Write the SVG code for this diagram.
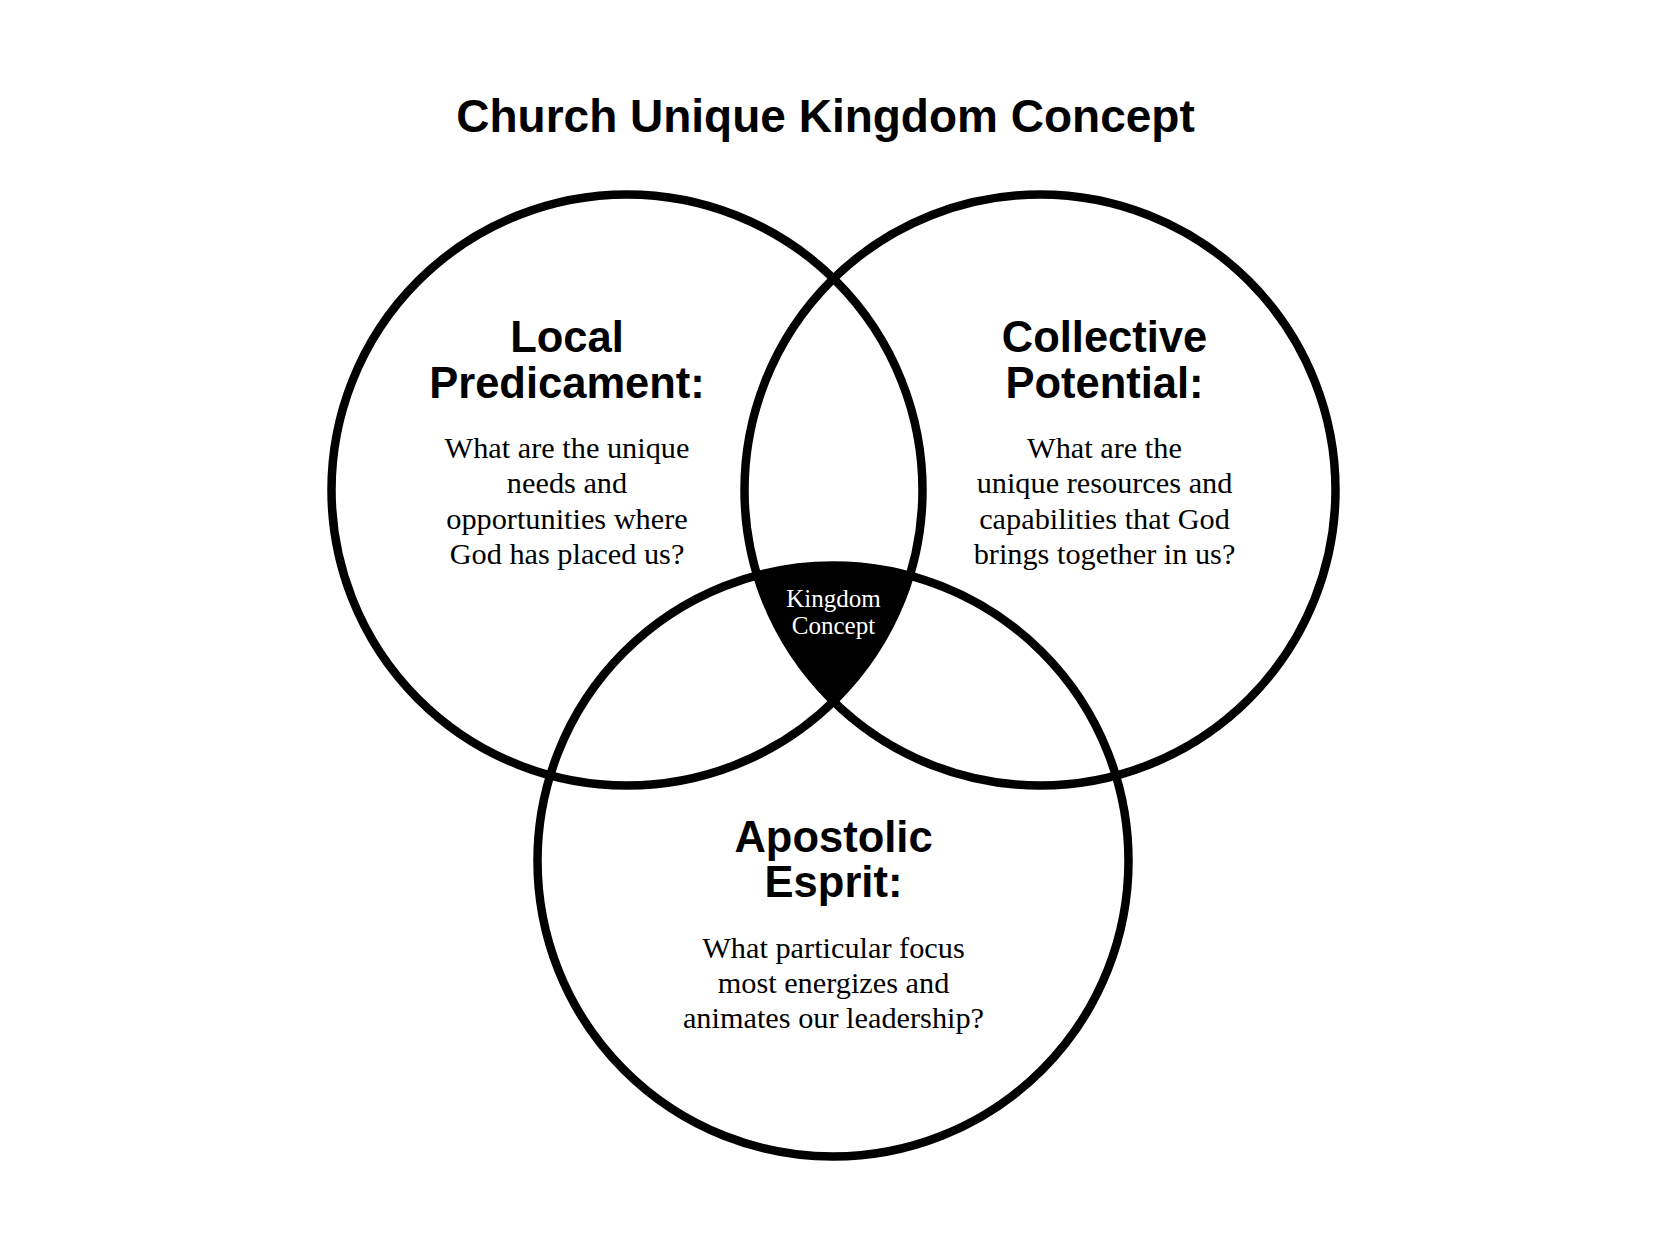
<svg xmlns="http://www.w3.org/2000/svg" width="1667" height="1250" viewBox="0 0 1667 1250">
<style>
.ring{fill:none;stroke:#000;stroke-width:8.5}
.title{font-family:"Liberation Sans",Arial,sans-serif;font-weight:bold;font-size:46px;fill:#000;text-anchor:middle}
.head{font-family:"Liberation Sans",Arial,sans-serif;font-weight:bold;font-size:43.5px;fill:#000;text-anchor:middle}
.body{font-family:"Liberation Serif","Times New Roman",serif;font-size:30.3px;fill:#000;text-anchor:middle}
.core{font-family:"Liberation Serif","Times New Roman",serif;font-size:25px;fill:#fff;text-anchor:middle}
</style>
<rect width="1667" height="1250" fill="#fff"/>
<text class="title" x="825.5" y="132">Church Unique Kingdom Concept</text>
<g id="core">
<path d="M757.1 575.4 A295.5 295.5 0 0 1 909.7 575.7 A295.5 295.5 0 0 1 833.5 701.4 A295.5 295.5 0 0 1 757.1 575.4 Z" fill="#000"/>
<text class="core" x="833.5" y="607">Kingdom</text>
<text class="core" x="833.5" y="633.5">Concept</text>
</g>
<g id="connectors">
<circle class="ring" cx="627" cy="490" r="295.5"/>
<circle class="ring" cx="1040" cy="490" r="295.5"/>
<circle class="ring" cx="833" cy="861" r="295.5"/>
</g>
<g id="local">
<text class="head" x="567" y="352">Local</text>
<text class="head" x="567" y="397.5">Predicament:</text>
<text class="body" x="567" y="458">What are the unique</text>
<text class="body" x="567" y="493">needs and</text>
<text class="body" x="567" y="528.5">opportunities where</text>
<text class="body" x="567" y="563.5">God has placed us?</text>
</g>
<g id="collective">
<text class="head" x="1104.5" y="352">Collective</text>
<text class="head" x="1104.5" y="397.5">Potential:</text>
<text class="body" x="1104.5" y="458">What are the</text>
<text class="body" x="1104.5" y="493">unique resources and</text>
<text class="body" x="1104.5" y="528.5">capabilities that God</text>
<text class="body" x="1104.5" y="563.5">brings together in us?</text>
</g>
<g id="apostolic">
<text class="head" x="833.5" y="851.5">Apostolic</text>
<text class="head" x="833.5" y="897">Esprit:</text>
<text class="body" x="833.5" y="958">What particular focus</text>
<text class="body" x="833.5" y="993">most energizes and</text>
<text class="body" x="833.5" y="1028">animates our leadership?</text>
</g>
</svg>
